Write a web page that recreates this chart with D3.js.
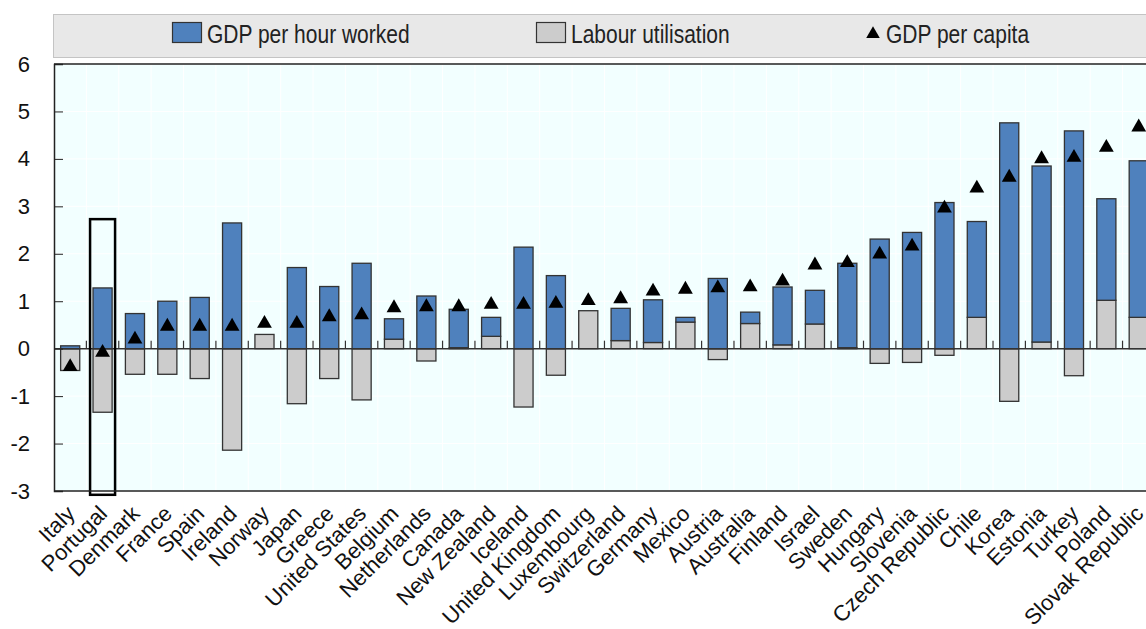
<!DOCTYPE html>
<html>
<head>
<meta charset="utf-8">
<script src="https://cdn.jsdelivr.net/npm/d3@7"></script>
<style>
  body { margin: 0; background: #fff; }
  svg { display: block; font-family: "Liberation Sans", Arial, sans-serif; }
</style>
</head>
<body>
<div id="plot"></div>
<script>
const WIDTH = 1146;
const HEIGHT = 629;

const countries = ["Italy", "Portugal", "Denmark", "France", "Spain", "Ireland", "Norway", "Japan",
    "Greece", "United States", "Belgium", "Netherlands", "Canada", "New Zealand", "Iceland",
    "United Kingdom", "Luxembourg", "Switzerland", "Germany", "Mexico", "Austria", "Australia",
    "Finland", "Israel", "Sweden", "Hungary", "Slovenia", "Czech Republic", "Chile", "Korea",
    "Estonia", "Turkey", "Poland", "Slovak Republic"];

// contribution of GDP per hour worked (blue)
const perHour = [0.06, 1.28, 0.74, 1.00, 1.08, 2.65, 0, 1.71,
    1.31, 1.80, 0.43, 1.11, 0.81, 0.40, 2.14,
    1.54, 0, 0.68, 0.90, 0.10, 1.48, 0.24,
    1.22, 0.71, 1.78, 2.31, 2.45, 3.08, 2.02, 4.76,
    3.71, 4.59, 2.14, 3.30];

// contribution of labour utilisation (grey)
const labourUtil = [-0.46, -1.34, -0.54, -0.54, -0.63, -2.14, 0.30, -1.16,
    -0.63, -1.08, 0.20, -0.26, 0.02, 0.26, -1.23,
    -0.56, 0.80, 0.17, 0.13, 0.56, -0.23, 0.53,
    0.08, 0.52, 0.02, -0.31, -0.29, -0.14, 0.66, -1.11,
    0.14, -0.57, 1.02, 0.66];

// GDP per capita (triangles)
const perCapita = [-0.38, -0.08, 0.20, 0.47, 0.47, 0.47, 0.53, 0.53,
    0.67, 0.71, 0.86, 0.88, 0.88, 0.93, 0.93,
    0.95, 1.01, 1.05, 1.21, 1.25, 1.28, 1.30,
    1.42, 1.76, 1.81, 1.99, 2.16, 2.96, 3.38, 3.61,
    4.00, 4.03, 4.24, 4.67];

const yTicks = [-3, -2, -1, 0, 1, 2, 3, 4, 5, 6];
const highlight = "Portugal";

const legendItems = [
    { label: "GDP per hour worked", type: "rect", color: "#4f81bd", x: 172 },
    { label: "Labour utilisation", type: "rect", color: "#cccccc", x: 536 },
    { label: "GDP per capita", type: "tri", color: "#000", x: 866 }
];

const margin = { top: 64, left: 54, bottom: 138 };
const step = 32.38;
const plotRight = margin.left + step * countries.length;

var svg = d3.select('#plot')
    .append('svg')
    .attr('width', WIDTH)
    .attr('height', HEIGHT)

let x = d3.scaleBand()
    .domain(countries)
    .range([margin.left, plotRight]);

let y = d3.scaleLinear()
    .domain([-3, 6])
    .range([HEIGHT - margin.bottom, margin.top]);

let barWidth = x.bandwidth() * 0.59;

// plot background
svg.append('rect')
    .attr('x', margin.left)
    .attr('y', margin.top)
    .attr('width', plotRight - margin.left)
    .attr('height', y(-3) - y(6))
    .attr('fill', '#f2ffff');

// faint white grid
svg.append('g')
    .selectAll('line')
    .data(yTicks)
    .join('line')
    .attr('x1', margin.left)
    .attr('x2', plotRight)
    .attr('y1', d => y(d))
    .attr('y2', d => y(d))
    .attr('stroke', '#fff')
    .attr('stroke-width', 1);

svg.append('g')
    .selectAll('line')
    .data(countries)
    .join('line')
    .attr('x1', d => x(d))
    .attr('x2', d => x(d))
    .attr('y1', y(6))
    .attr('y2', y(-3))
    .attr('stroke', '#fff')
    .attr('stroke-width', 1);

// stacked bars: grey first, blue on top (diverging)
let rows = countries.map((c, i) => ({ country: c, labour: labourUtil[i], hour: perHour[i] }));

let series = d3.stack()
    .keys(['labour', 'hour'])
    .offset(d3.stackOffsetDiverging)(rows);

let colors = { labour: '#cccccc', hour: '#4f81bd' };

svg.append('g')
    .selectAll('g')
    .data(series)
    .join('g')
    .attr('fill', d => colors[d.key])
    .selectAll('rect')
    .data(d => d.filter(s => s[1] - s[0] !== 0))
    .join('rect')
    .attr('x', d => x(d.data.country) + (x.bandwidth() - barWidth) / 2)
    .attr('width', barWidth)
    .attr('y', d => y(d[1]))
    .attr('height', d => y(d[0]) - y(d[1]))
    .attr('stroke', '#333')
    .attr('stroke-width', 1.3);

// zero line with small category ticks
svg.append('line')
    .attr('x1', margin.left)
    .attr('x2', plotRight)
    .attr('y1', y(0))
    .attr('y2', y(0))
    .attr('stroke', '#333')
    .attr('stroke-width', 1.5);

svg.append('g')
    .selectAll('line')
    .data(countries.slice(1))
    .join('line')
    .attr('x1', d => x(d))
    .attr('x2', d => x(d))
    .attr('y1', y(0))
    .attr('y2', y(0) - 8)
    .attr('stroke', '#333')
    .attr('stroke-width', 1.2);

// GDP per capita triangles
svg.append('g')
    .selectAll('path')
    .data(countries)
    .join('path')
    .attr('d', d3.symbol(d3.symbolTriangle, 95))
    .attr('transform', (d, i) => `translate(${x(d) + x.bandwidth() / 2},${y(perCapita[i])})`)
    .attr('fill', '#000');

// highlight box around Portugal
svg.append('rect')
    .attr('x', x(highlight) + x.bandwidth() / 2 - 12.5)
    .attr('y', y(2.73))
    .attr('width', 25)
    .attr('height', y(-3.08) - y(2.73))
    .attr('fill', 'none')
    .attr('stroke', '#000')
    .attr('stroke-width', 2.5);

// top + bottom borders of the plot
svg.append('line')
    .attr('x1', margin.left).attr('x2', plotRight)
    .attr('y1', y(6)).attr('y2', y(6))
    .attr('stroke', '#222').attr('stroke-width', 1.5);
svg.append('line')
    .attr('x1', margin.left).attr('x2', plotRight)
    .attr('y1', y(-3)).attr('y2', y(-3))
    .attr('stroke', '#222').attr('stroke-width', 1.5);

let yAxis = d3.axisLeft(y)
    .tickValues(yTicks)
    .tickSize(-9)
    .tickPadding(24)
    .tickFormat(d => String(d));   // plain hyphen for negatives

svg.append('g')
    .attr('transform', `translate(${margin.left},0)`)
    .call(yAxis)
    .call(g => g.select('.domain').attr('stroke', '#222').attr('stroke-width', 1.5))
    .call(g => g.selectAll('.tick line').attr('stroke', '#222'))
    .call(g => g.selectAll('.tick text')
        .attr('font-size', 22)
        .attr('font-family', '"Liberation Sans", Arial, sans-serif')
        .attr('fill', '#111'));

// category labels
svg.append('g')
    .selectAll('text')
    .data(countries)
    .join('text')
    .attr('transform', d => `translate(${x(d) + x.bandwidth() / 2 + 6},${y(-3) + 24}) rotate(-45)`)
    .attr('text-anchor', 'end')
    .attr('font-size', 22)
    .attr('fill', '#111')
    .text(d => d);

// legend
let legend = svg.append('g');

legend.append('rect')
    .attr('x', 53.5)
    .attr('y', 14.5)
    .attr('width', WIDTH)
    .attr('height', 43)
    .attr('fill', '#e8e8e8')
    .attr('stroke', '#c4c4c4');

legendItems.forEach(item => {
    let g = legend.append('g').attr('transform', `translate(${item.x},0)`);
    let textX;
    if (item.type == 'rect') {
        g.append('rect')
            .attr('x', 0.5)
            .attr('y', 22.5)
            .attr('width', 29)
            .attr('height', 20)
            .attr('fill', item.color)
            .attr('stroke', '#333')
            .attr('stroke-width', 1.2);
        textX = 35;
    } else {
        g.append('path')
            .attr('d', d3.symbol(d3.symbolTriangle, 80))
            .attr('transform', 'translate(7,34)')
            .attr('fill', item.color);
        textX = 20;
    }
    g.append('text')
        .attr('transform', `translate(${textX},43) scale(0.84,1)`)
        .attr('font-size', 25)
        .attr('fill', '#222')
        .text(item.label);
});
</script>
</body>
</html>
